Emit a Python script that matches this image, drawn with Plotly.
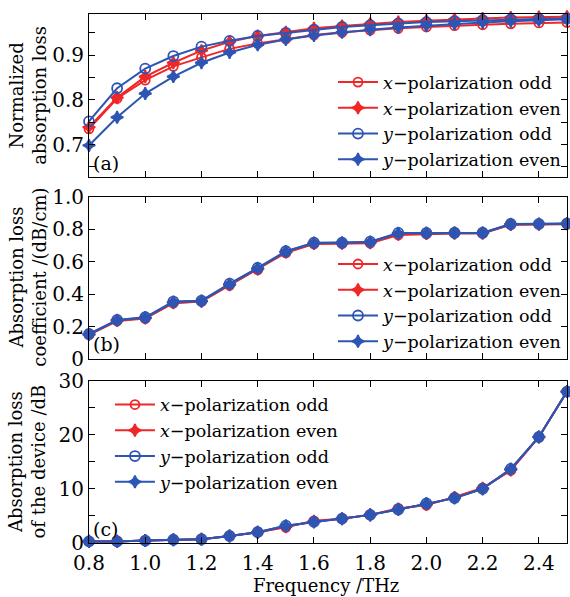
import plotly.graph_objects as go

freq = [0.8, 0.9, 1.0, 1.1, 1.2, 1.3, 1.4, 1.5, 1.6, 1.7, 1.8, 1.9, 2.0, 2.1, 2.2, 2.3, 2.4, 2.5]

# (a) Normalized absorption loss
norm_x_odd = [0.735, 0.803, 0.844, 0.875, 0.895, 0.914, 0.926, 0.936, 0.945, 0.951, 0.956, 0.960, 0.963, 0.966, 0.968, 0.970, 0.972, 0.973]
norm_x_even = [0.739, 0.805, 0.852, 0.883, 0.910, 0.930, 0.943, 0.951, 0.960, 0.965, 0.970, 0.974, 0.977, 0.980, 0.982, 0.984, 0.985, 0.986]
norm_y_odd = [0.752, 0.826, 0.870, 0.898, 0.919, 0.932, 0.943, 0.950, 0.957, 0.963, 0.967, 0.971, 0.974, 0.976, 0.978, 0.980, 0.981, 0.982]
norm_y_even = [0.698, 0.761, 0.814, 0.852, 0.883, 0.906, 0.923, 0.935, 0.944, 0.951, 0.957, 0.962, 0.966, 0.970, 0.973, 0.976, 0.978, 0.980]

# (b) Absorption loss coefficient (dB/cm)
coef_x_odd = [0.150, 0.235, 0.250, 0.345, 0.355, 0.455, 0.550, 0.655, 0.710, 0.712, 0.715, 0.765, 0.772, 0.775, 0.775, 0.828, 0.830, 0.832]
coef_x_even = [0.152, 0.238, 0.253, 0.348, 0.357, 0.458, 0.555, 0.660, 0.713, 0.714, 0.718, 0.770, 0.774, 0.777, 0.777, 0.830, 0.832, 0.834]
coef_y_odd = [0.155, 0.242, 0.258, 0.355, 0.360, 0.465, 0.562, 0.665, 0.718, 0.718, 0.724, 0.778, 0.778, 0.779, 0.779, 0.833, 0.834, 0.836]
coef_y_even = [0.153, 0.240, 0.256, 0.352, 0.358, 0.462, 0.560, 0.663, 0.716, 0.717, 0.722, 0.776, 0.777, 0.778, 0.778, 0.832, 0.833, 0.835]

# (c) Absorption loss of the device (dB)
dev_x_odd = [0.3, 0.3, 0.45, 0.6, 0.7, 1.3, 2.0, 2.9, 4.1, 4.5, 5.2, 6.4, 7.0, 8.5, 10.2, 13.4, 19.6, 28.0]
dev_x_even = [0.3, 0.3, 0.45, 0.6, 0.7, 1.3, 2.0, 3.0, 4.0, 4.5, 5.2, 6.3, 7.1, 8.4, 10.1, 13.5, 19.6, 28.0]
dev_y_odd = [0.3, 0.3, 0.45, 0.6, 0.7, 1.3, 2.0, 3.2, 3.9, 4.5, 5.2, 6.2, 7.3, 8.3, 10.0, 13.7, 19.6, 28.0]
dev_y_even = [0.3, 0.3, 0.45, 0.6, 0.7, 1.3, 2.0, 3.2, 3.9, 4.5, 5.2, 6.2, 7.3, 8.3, 10.0, 13.7, 19.6, 28.0]

series_names = ["<i>x</i>\u2212polarization odd", "<i>x</i>\u2212polarization even",
                "<i>y</i>\u2212polarization odd", "<i>y</i>\u2212polarization even"]

x_tickvals = [0.8, 1.0, 1.2, 1.4, 1.6, 1.8, 2.0, 2.2, 2.4]
x_ticktext = ["0.8", "1.0", "1.2", "1.4", "1.6", "1.8", "2.0", "2.2", "2.4"]
a_tickvals = [0.65, 0.7, 0.75, 0.8, 0.85, 0.9, 0.95]
a_ticktext = ["", "0.7", "", "0.8", "", "0.9", ""]
b_tickvals = [0, 0.2, 0.4, 0.6, 0.8, 1.0]
b_ticktext = ["0", "0.2", "0.4", "0.6", "0.8", "1.0"]
c_tickvals = [0, 5, 10, 15, 20, 25, 30]
c_ticktext = ["0", "", "10", "", "20", "", "30"]

RED = "rgb(238,40,40)"
BLUE = "rgb(45,85,180)"
FONT = "DejaVu Serif"

styles = [
    dict(color=RED, symbol="circle-open", size=9),
    dict(color=RED, symbol="star-diamond", size=9),
    dict(color=BLUE, symbol="circle-open", size=10),
    dict(color=BLUE, symbol="star-diamond", size=9),
]

fig = go.Figure()

panels = [
    ("y", "legend", [norm_x_odd, norm_x_even, norm_y_odd, norm_y_even]),
    ("y2", "legend2", [coef_x_odd, coef_x_even, coef_y_odd, coef_y_even]),
    ("y3", "legend3", [dev_x_odd, dev_x_even, dev_y_odd, dev_y_even]),
]
xrefs = {"y": "x", "y2": "x2", "y3": "x3"}
for yref, leg, data in panels:
    for name, vals, st in zip(series_names, data, styles):
        fig.add_trace(go.Scatter(
            x=freq, y=vals, name=name, mode="lines+markers",
            xaxis=xrefs[yref], yaxis=yref, legend=leg,
            line=dict(color=st["color"], width=2),
            marker=dict(symbol=st["symbol"], size=st["size"], color=st["color"],
                        line=dict(color=st["color"], width=1.8)),
            cliponaxis=False,
        ))

W, H = 570, 597
L, R, T, B = 89, 2, 5, 54
ph = H - T - B


def py(pix):
    return (H - B - pix) / ph


def px(pix):
    return (pix - L) / (W - L - R)


dom_a = [py(171), 1.0]
dom_b = [py(356), py(191)]
dom_c = [0.0, py(378)]

axis_common = dict(showline=True, linecolor="black", linewidth=1, mirror="ticks",
                   ticks="inside", ticklen=6, tickcolor="black", showgrid=False,
                   zeroline=False, tickfont=dict(family=FONT, size=20, color="black"))

xcommon = dict(axis_common, range=[0.8, 2.5], tickvals=x_tickvals, ticktext=x_ticktext)

fig.update_layout(
    width=W, height=H,
    margin=dict(l=L, r=R, t=T, b=B),
    paper_bgcolor="white", plot_bgcolor="white",
    font=dict(family=FONT, size=18, color="black"),
    xaxis=dict(xcommon, anchor="y", showticklabels=False),
    xaxis2=dict(xcommon, anchor="y2", matches="x", showticklabels=False),
    xaxis3=dict(xcommon, anchor="y3", matches="x", ticklabelstandoff=2),
    yaxis=dict(axis_common, domain=dom_a, anchor="x", range=[0.627, 0.992],
               tickvals=a_tickvals, ticktext=a_ticktext),
    yaxis2=dict(axis_common, domain=dom_b, anchor="x2", range=[0, 1.0],
                tickvals=b_tickvals, ticktext=b_ticktext),
    yaxis3=dict(axis_common, domain=dom_c, anchor="x3", range=[0, 30],
                tickvals=c_tickvals, ticktext=c_ticktext),
    showlegend=True,
)

leg_common = dict(bgcolor="rgba(0,0,0,0)", borderwidth=0, itemwidth=40,
                  font=dict(family=FONT, size=17.5, color="black"),
                  tracegroupgap=0, itemclick=False)
fig.update_layout(
    legend=dict(leg_common, x=1.0, xanchor="right", y=py(171), yanchor="bottom"),
    legend2=dict(leg_common, x=1.0, xanchor="right", y=py(356), yanchor="bottom"),
    legend3=dict(leg_common, x=px(110), xanchor="left", y=py(384), yanchor="top"),
)

ann = []
for txt, yc in [("Normalized<br>absorption loss", 88),
                ("Absorption loss<br>coefficient /(dB/cm)", 273),
                ("Absorption loss<br>of the device /dB", 460)]:
    ann.append(dict(text=txt, xref="paper", yref="paper", x=px(27), y=py(yc),
                    xanchor="center", yanchor="middle", textangle=-90, showarrow=False,
                    font=dict(family=FONT, size=18, color="black")))
for txt, yc in [("(a)", 157), ("(b)", 341), ("(c)", 529)]:
    ann.append(dict(text=txt, xref="paper", yref="paper", x=px(91), y=py(yc),
                    xanchor="left", yanchor="middle", showarrow=False,
                    font=dict(family=FONT, size=19, color="black")))
ann.append(dict(text="Frequency /THz", xref="paper", yref="paper", x=px(326), y=py(586),
                xanchor="center", yanchor="middle", showarrow=False,
                font=dict(family=FONT, size=18, color="black")))
fig.update_layout(annotations=ann)

fig.write_html("out.html")
